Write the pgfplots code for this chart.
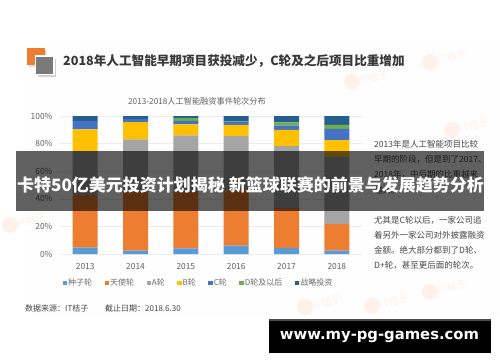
\documentclass[border=0pt]{standalone}
\usepackage{fontspec}
\usepackage{pgfplots}
\usepackage{pgfplotstable}
\pgfplotsset{compat=1.18}
\setmainfont{Noto Sans CJK SC}
\newfontfamily\webfont{DejaVu Sans}
\definecolor{cseed}{HTML}{5B9BD5}
\definecolor{cangel}{HTML}{ED7D31}
\definecolor{cA}{HTML}{A5A5A5}
\definecolor{cB}{HTML}{FFC000}
\definecolor{cC}{HTML}{4472C4}
\definecolor{cD}{HTML}{70AD47}
\definecolor{cS}{HTML}{255E91}
\definecolor{wm}{HTML}{FDF1E9}
\pgfplotstableread{
x seed angel A B C D S
0 4.6 38.1 31.9 15.7 6.2 0 3.5
1 2.4 42.6 38.0 12.5 2.5 0 2.0
2 4.1 40.9 41.0 8.0 2.5 2.0 1.5
3 6.0 40.0 39.5 8.0 2.0 0.5 4.0
4 4.2 29.0 45.0 11.8 3.0 2.4 4.6
5 2.4 19.3 48.8 12.1 8.0 2.9 6.5
}\rounds
\begin{document}
\begin{tikzpicture}[x=1pt,y=1pt]
\useasboundingbox (0,0) rectangle (500,362);
\fill[white] (0,0) rectangle (500,362);
\begin{scope}[yshift=362pt,y=-1pt]
\fill[white!97!wm] (25,40) rectangle (500,318);
% watermarks
\foreach \px/\py in {352/82,430/62,452/130,305/307,372/306,430/292,10/225}{
  \fill[wm] (\px,\py) circle (8);
  \node[text=wm,font=\fontsize{10}{10}\selectfont,rotate=15] at (\px+22,\py-5) {IT桔子};
}
% icon
\fill[black!12] (29,50) rectangle (47,67);
\fill[cangel] (27,48) rectangle (45,65);
\fill[black!18] (38,59) rectangle (56,77);
\fill[white] (34.5,55.5) rectangle (54.5,75.5);
\fill[black!52] (36,57) rectangle (53,74);
% title
\node[anchor=west,inner sep=0,text=black!78,font=\fontsize{12.6}{13}\selectfont\bfseries] at (63,60.5) {2018年人工智能早期项目获投减少，C轮及之后项目比重增加};
\node[text=black!62,font=\fontsize{8.2}{9}\selectfont] at (197,101) {2013-2018人工智能融资事件轮次分布};
% right text
\foreach \yy/\tx in {144/2013年是人工智能项目比较,159.5/早期的阶段，但是到了2017、,174.5/2018年，中后期的比重越来,190/越大。,220/尤其是C轮以后，一家公司追,235/着另外一家公司对外披露融资,250.5/金额。绝大部分都到了D轮、,265.5/D+轮，甚至更后面的轮次。}{
  \node[anchor=west,inner sep=0,text=black!72,font=\fontsize{8.5}{9}\selectfont] at (374,\yy) {\tx};
}
\node[anchor=west,inner sep=0,text=black!72,font=\fontsize{8}{9}\selectfont] at (25,308) {数据来源：IT桔子};
\node[anchor=west,inner sep=0,text=black!72,font=\fontsize{8}{9}\selectfont] at (105,308) {截止日期：2018.6.30};
\end{scope}
\begin{axis}[
  at={(60pt,108pt)},anchor=south west,
  scale only axis,width=302pt,height=138pt,
  ybar stacked,bar width=25pt,
  xmin=-0.5,xmax=5.5,ymin=0,ymax=100,
  xtick=data,xticklabels={2013,2014,2015,2016,2017,2018},
  ytick={0,20,40,60,80,100},yticklabels={0\%,20\%,40\%,60\%,80\%,100\%},
  major tick length=0pt,
  axis line style={draw=none},
  axis x line*=bottom,axis y line*=left,
  ymajorgrids,grid style={black!8,line width=0.5pt},
  tick label style={text=black!62,font=\fontsize{8.4}{9}\selectfont},
  xticklabel style={yshift=-6pt},
  yticklabel style={xshift=-4pt},
  legend columns=7,
  legend style={at={(0.457,-0.21)},anchor=center,draw=none,fill=none,inner sep=0pt,
    font=\fontsize{8}{9}\selectfont,text=black!58,
    nodes={inner sep=1pt},
    /tikz/every even column/.append style={column sep=11.5pt},
    /tikz/every odd column/.append style={column sep=0pt}},
  legend image code/.code={\path[#1] (0pt,-2.2pt) rectangle (4.4pt,2.2pt);},
]
\addplot[fill=cseed,draw=none] table[x=x,y=seed]{\rounds};\addlegendentry{种子轮}
\addplot[fill=cangel,draw=none] table[x=x,y=angel]{\rounds};\addlegendentry{天使轮}
\addplot[fill=cA,draw=none] table[x=x,y=A]{\rounds};\addlegendentry{A轮}
\addplot[fill=cB,draw=none] table[x=x,y=B]{\rounds};\addlegendentry{B轮}
\addplot[fill=cC,draw=none] table[x=x,y=C]{\rounds};\addlegendentry{C轮}
\addplot[fill=cD,draw=none] table[x=x,y=D]{\rounds};\addlegendentry{D轮及以后}
\addplot[fill=cS,draw=none] table[x=x,y=S]{\rounds};\addlegendentry{战略投资}
\end{axis}
\begin{scope}[yshift=362pt,y=-1pt]
\fill[black,opacity=0.62] (16,151) rectangle (484,211);
\node[text=white,font=\fontsize{17}{18}\selectfont\bfseries,inner sep=0] at (250.5,185) {卡特50亿美元投资计划揭秘 新篮球联赛的前景与发展趋势分析};
\fill[black] (269,319) rectangle (491,352.7);
\fill[black!70] (269,319) rectangle (491,320.5);
\node[text=white,font=\fontsize{14.8}{16}\selectfont\webfont\bfseries,inner sep=0] at (379.5,337) {www.my-pg-games.com};
\end{scope}
\end{tikzpicture}
\end{document}
